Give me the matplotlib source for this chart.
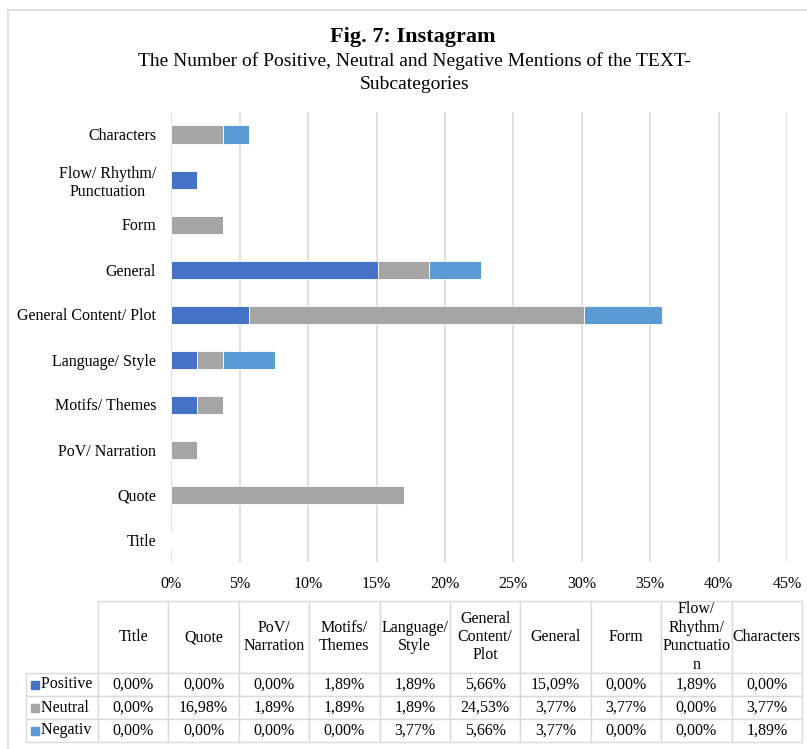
import matplotlib
matplotlib.use('Agg')
import matplotlib.pyplot as plt
from matplotlib.patches import Rectangle

plt.rcParams['font.family'] = ['Liberation Serif', 'DejaVu Serif']

# categories in table order (bottom to top on the bar chart)
categories = ['Title', 'Quote', 'PoV/ Narration', 'Motifs/ Themes', 'Language/ Style',
              'General Content/ Plot', 'General', 'Form', 'Flow/ Rhythm/\nPunctuation',
              'Characters']
table_headers = ['Title', 'Quote', 'PoV/\nNarration', 'Motifs/\nThemes', 'Language/\nStyle',
                 'General\nContent/\nPlot', 'General', 'Form', 'Flow/\nRhythm/\nPunctuatio\nn',
                 'Characters']
positive = [0.00, 0.00, 0.00, 1.89, 1.89, 5.66, 15.09, 0.00, 1.89, 0.00]
neutral = [0.00, 16.98, 1.89, 1.89, 1.89, 24.53, 3.77, 3.77, 0.00, 3.77]
negative = [0.00, 0.00, 0.00, 0.00, 3.77, 5.66, 3.77, 0.00, 0.00, 1.89]
series_names = ['Positive', 'Neutral', 'Negativ']
colors = ['#4472C4', '#A5A5A5', '#5B9BD5']
xticks = [0, 5, 10, 15, 20, 25, 30, 35, 40, 45]

W, H = 807, 749
fig = plt.figure(figsize=(W / 100, H / 100), dpi=100)

# light frame of the chart area
fig.patches.append(Rectangle((8 / W, -0.05), 1.2, 1.05 - 10 / H,
                             transform=fig.transFigure, fill=False,
                             edgecolor='#D9D9D9', lw=1.2))

fig.text(0.512, 1 - 37 / H, 'Fig. 7: Instagram', ha='center', va='center',
         fontsize=16, fontweight='bold')
fig.text(0.514, 1 - 72.5 / H,
         'The Number of Positive, Neutral and Negative Mentions of the TEXT-\nSubcategories',
         ha='center', va='center', fontsize=14, linespacing=1.45)

ax = fig.add_axes([171.3 / W, 1 - 562 / H, (787 - 171.3) / W, 450 / H])
y = list(range(len(categories)))
left = [0] * len(categories)
for vals, name, c in zip([positive, neutral, negative], series_names, colors):
    ax.barh(y, vals, left=left, height=0.4, color=c, edgecolor='white', lw=0.6,
            label=name, zorder=3)
    left = [a + b for a, b in zip(left, vals)]

ax.set_xlim(0, 45)
ax.set_ylim(-0.5, len(categories) - 0.5)
ax.set_xticks(xticks)
ax.set_xticklabels([f'{t}%' for t in xticks], fontsize=11.5)
ax.set_yticks(y)
ax.set_yticklabels(categories, fontsize=11.5)
for lab in ax.get_yticklabels():
    lab.set_multialignment('center')
ax.tick_params(axis='y', length=0, pad=11)
ax.tick_params(axis='x', length=0, pad=10)
ax.grid(axis='x', color='#D9D9D9', lw=1.2, zorder=0)
for s in ax.spines.values():
    s.set_visible(False)

# data table below the chart; first column holds the series names
axt = fig.add_axes([26 / W, 1 - 742 / H, 776 / W, 141 / H])
axt.axis('off')
cell_text = [['  ' + n] + [f'{v:.2f}%'.replace('.', ',') for v in s]
             for n, s in zip(series_names, [positive, neutral, negative])]
tab = axt.table(cellText=cell_text, colLabels=[''] + table_headers,
                cellLoc='center', bbox=[0, 0, 1, 1])
tab.auto_set_font_size(False)
tab.set_fontsize(11.5)
for (r, c), cell in tab.get_celld().items():
    cell.set_edgecolor('#D9D9D9')
    cell.set_linewidth(1.0)
    cell.set_width(72 if c == 0 else 70.4)
    cell.set_height(72 if r == 0 else 23)
    if r == 0:
        cell.get_text().set_linespacing(1.2)
    if c == 0:
        cell.get_text().set_ha('left')
        cell._loc = 'left'
tab[0, 0].visible_edges = ''

fig.canvas.draw()
for i, c in enumerate(colors):
    cell = tab[i + 1, 0]
    axt.plot(cell.get_x() + 0.011, cell.get_y() + cell.get_height() / 2, 's',
             color=c, ms=6, transform=axt.transAxes, clip_on=False)

fig.savefig('out.png', dpi=100)
